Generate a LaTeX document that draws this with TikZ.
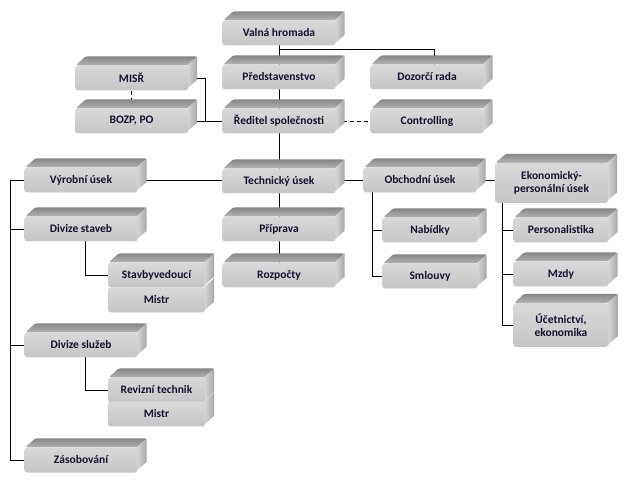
\documentclass[tikz,border=0pt]{standalone}
\usepackage{fontspec}
\setmainfont{Carlito}
\usetikzlibrary{calc}
\pgfdeclarelayer{conn}
\pgfdeclarelayer{bev}
\pgfdeclarelayer{bg}
\pgfsetlayers{bg,conn,bev,main}
\definecolor{txt}{HTML}{121230}
\tikzset{
  box/.style={rectangle, rounded corners=3pt, top color=gray!30, bottom color=gray!45,
     draw=none, minimum height=25pt, inner sep=2pt, font=\fontsize{11.5}{13.5}\selectfont\bfseries,
     text=txt, align=center},
  wide/.style={minimum width=113pt},
  mid/.style={minimum width=95pt},
  small/.style={minimum width=97pt},
  topface/.style={top color=gray!95, bottom color=gray!60, rounded corners=1.5pt},
  sideface/.style={left color=gray!30, right color=gray!70},
  conline/.style={draw=black, line width=0.9pt},
  dline/.style={draw=black, line width=0.9pt, dash pattern=on 4pt off 3pt}
}
\begin{document}
\begin{tikzpicture}[x=1pt,y=-1pt]
\begin{pgfonlayer}{bg}
\fill[white] (0,0) rectangle (630,489);
\end{pgfonlayer}
\useasboundingbox (0,0) rectangle (630,489);
% boxes
\node[box,wide] (valna) at (279,33) {Valná hromada};
\node[box,wide] (pred) at (279,77) {Představenstvo};
\node[box,wide] (dozor) at (427,77) {Dozorčí rada};
\node[box,wide] (misr) at (131.5,78) {MISŘ};
\node[box,wide] (bozp) at (131.5,121) {BOZP, PO};
\node[box,wide] (red) at (279,121) {Ředitel společnosti};
\node[box,wide] (ctrl) at (427,121) {Controlling};
\node[box,wide] (vyr) at (81,180) {Výrobní úsek};
\node[box,wide] (tech) at (279,181) {Technický úsek};
\node[box,wide] (obch) at (420,180) {Obchodní úsek};
\node[box,wide,minimum height=40pt] (eko) at (551.5,183) {Ekonomický-\\personální úsek};
\node[box,wide] (divst) at (81,229) {Divize staveb};
\node[box,wide] (prip) at (279,229) {Příprava};
\node[box,mid] (nab) at (430,230) {Nabídky};
\node[box,mid] (pers) at (561,230) {Personalistika};
\node[box,small] (stav) at (156.5,275) {Stavbyvedoucí};
\node[box,small] (mistra) at (156.5,300) {Mistr};
\node[box,wide] (rozp) at (279,275) {Rozpočty};
\node[box,mid] (smlo) at (430,276) {Smlouvy};
\node[box,mid] (mzdy) at (561,274) {Mzdy};
\node[box,mid,minimum height=44pt] (ucet) at (561,325) {Účetnictví,\\ekonomika};
\node[box,wide] (divsl) at (81,345) {Divize služeb};
\node[box,small] (rev) at (156.5,390) {Revizní technik};
\node[box,small] (mistrb) at (156.5,414) {Mistr};
\node[box,wide] (zas) at (81,460) {Zásobování};
% bevels
\begin{pgfonlayer}{bev}
\foreach \n in {valna,pred,dozor,misr,bozp,red,ctrl,vyr,tech,obch,eko,divst,prip,nab,pers,stav,rozp,smlo,mzdy,ucet,divsl,rev,zas}{
  \path[topface] ([xshift=1pt]\n.north west) -- ++(10,-9) -- ([shift={(9pt,9pt)}]\n.north east) -- (\n.north east) -- cycle;
}
\foreach \n in {valna,pred,dozor,misr,bozp,red,ctrl,vyr,tech,obch,eko,divst,prip,nab,pers,stav,mistra,rozp,smlo,mzdy,ucet,divsl,rev,mistrb,zas}{
  \path[sideface] ([xshift=-1pt]\n.north east) -- ++(10,-9) -- ([shift={(9pt,11pt)}]\n.south east) -- ([xshift=-1pt,yshift=2pt]\n.south east) -- cycle;
}
\end{pgfonlayer}
% connectors
\coordinate (busx) at (10,0);
\coordinate (dozx) at (434,0);
\coordinate (misx) at (205,0);
\coordinate (dsx) at (85,0);
\coordinate (obx) at (372,0);
\coordinate (ekx) at (502,0);
\begin{pgfonlayer}{conn}
\path[conline] (valna.center) -- (red.center);
\path[conline] (valna.south) -- ++(0,4) -| (dozx |- dozor.center);
\path[conline] (misr.center) -- (misr.center -| misx) |- (red.center);
\path[conline] (bozp.center) -- (red.center);
\path[dline] (misr.south) -- (bozp.north);
\path[dline] (red.east) -- (ctrl.west);
\path[conline] (red.center) -- (rozp.center);
\path[conline] (vyr.center) -- (vyr.center -| eko.center);
\path[conline] (vyr.west) -- (vyr.west -| busx) -- (zas.west -| busx) -- (zas.west);
\path[conline] (divst.west -| busx) -- (divst.west);
\path[conline] (divsl.west -| busx) -- (divsl.west);
\path[conline] (divst.center -| dsx) |- (stav.center);
\path[conline] (divsl.center -| dsx) |- (rev.center);
\path[conline] (obch.center -| obx) |- (smlo.center);
\path[conline] (nab.center -| obx) -- (nab.center);
\path[conline] (eko.center -| ekx) |- (ucet.center);
\path[conline] (pers.center -| ekx) -- (pers.center);
\path[conline] (mzdy.center -| ekx) -- (mzdy.center);
\end{pgfonlayer}
\end{tikzpicture}
\end{document}
